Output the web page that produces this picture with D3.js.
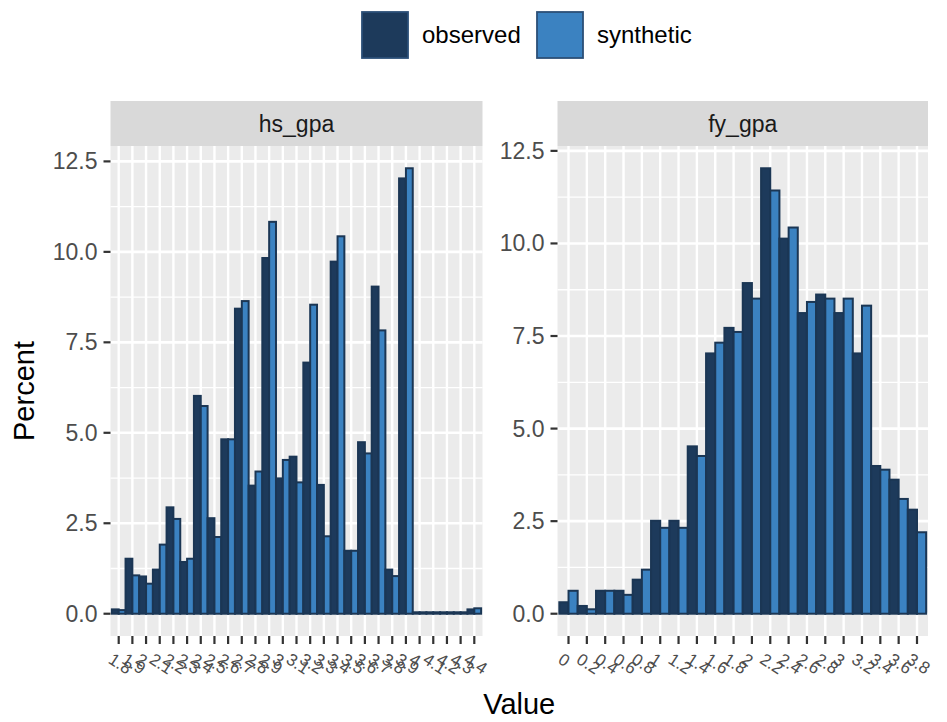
<!DOCTYPE html>
<html>
<head>
<meta charset="utf-8">
<script src="https://cdn.jsdelivr.net/npm/d3@7"></script>
<style>
  body { margin: 0; background: #fff; }
  text { font-family: "Liberation Sans", Arial, sans-serif; }
</style>
</head>
<body>
<div id="chart"></div>
<script>
// hs_gpa panel
var hsLabels = ["1.8", "1.9", "2", "2.1", "2.2", "2.3", "2.4", "2.5", "2.6", "2.7", "2.8", "2.9",
  "3", "3.1", "3.2", "3.3", "3.4", "3.5", "3.6", "3.7", "3.8", "3.9", "4", "4.1", "4.2", "4.3", "4.4"];
var hsObserved = [0.12, 1.52, 1.03, 1.22, 2.94, 1.43, 6.02, 2.64, 4.82, 8.43, 3.54, 9.83, 3.74, 4.34,
  6.94, 3.56, 9.73, 1.74, 4.74, 9.04, 1.22, 12.03, 0.04, 0.04, 0.04, 0.04, 0.12];
var hsSynthetic = [0.1, 1.06, 0.83, 1.91, 2.62, 1.52, 5.74, 2.12, 4.82, 8.64, 3.93, 10.83, 4.25, 3.63,
  8.54, 2.14, 10.43, 1.74, 4.43, 7.83, 1.04, 12.31, 0.04, 0.04, 0.04, 0.04, 0.15];

// fy_gpa panel
var fyLabels = ["0", "0.2", "0.4", "0.6", "0.8", "1", "1.2", "1.4", "1.6", "1.8",
  "2", "2.2", "2.4", "2.6", "2.8", "3", "3.2", "3.4", "3.6", "3.8"];
var fyObserved = [0.31, 0.21, 0.62, 0.62, 0.92, 2.51, 2.51, 4.52, 7.03, 7.72,
  8.93, 12.03, 10.13, 8.12, 8.62, 8.12, 7.03, 3.99, 3.62, 2.81];
var fySynthetic = [0.62, 0.12, 0.62, 0.51, 1.19, 2.32, 2.32, 4.26, 7.32, 7.61,
  8.51, 11.43, 10.43, 8.42, 8.51, 8.51, 8.32, 3.89, 3.10, 2.20];

var yTicks = [0, 2.5, 5, 7.5, 10, 12.5];
var groups = ["observed", "synthetic"];

var width = 947, height = 722;
var panelTop = 146, panelBottom = 636, stripTop = 101;
var color = d3.scaleOrdinal().domain(groups).range(["#1d3a5b", "#3b82c1"]);
var barStroke = "#1b3654";

var svg = d3.select("#chart").append("svg")
  .attr("width", width)
  .attr("height", height);

var panels = [
  {name: "hs_gpa", labels: hsLabels, observed: hsObserved, synthetic: hsSynthetic, x0: 110.5, x1: 482.5},
  {name: "fy_gpa", labels: fyLabels, observed: fyObserved, synthetic: fySynthetic, x0: 557.5, x1: 928}
];

function drawPanel(p) {
  var g = svg.append("g");

  var x = d3.scalePoint().domain(p.labels).range([p.x0, p.x1]).padding(0.6);
  var maxY = d3.max(p.observed.concat(p.synthetic));
  var y = d3.scaleLinear().domain([-0.05 * maxY, 1.05 * maxY]).range([panelBottom, panelTop]);
  var dodge = d3.scaleBand().domain(groups).range([-0.5 * x.step(), 0.5 * x.step()]);

  // panel background + grid
  g.append("rect")
    .attr("x", p.x0).attr("y", panelTop)
    .attr("width", p.x1 - p.x0).attr("height", panelBottom - panelTop)
    .attr("fill", "#ebebeb");

  var minor = [];
  for (var i = 0; i < yTicks.length; i++) {
    var m = yTicks[i] + 1.25;
    if (y(m) > panelTop) minor.push(m);
  }
  g.selectAll(".minor").data(minor).enter().append("line")
    .attr("x1", p.x0).attr("x2", p.x1)
    .attr("y1", function(d) { return y(d); }).attr("y2", function(d) { return y(d); })
    .attr("stroke", "#fff").attr("stroke-width", 1.3);
  g.selectAll(".major").data(yTicks).enter().append("line")
    .attr("x1", p.x0).attr("x2", p.x1)
    .attr("y1", function(d) { return y(d); }).attr("y2", function(d) { return y(d); })
    .attr("stroke", "#fff").attr("stroke-width", 2.6);
  g.selectAll(".vgrid").data(p.labels).enter().append("line")
    .attr("x1", function(d) { return x(d); }).attr("x2", function(d) { return x(d); })
    .attr("y1", panelTop).attr("y2", panelBottom)
    .attr("stroke", "#fff").attr("stroke-width", 2.4);

  // bars
  var bars = [];
  p.labels.forEach(function(lab, i) {
    bars.push({label: lab, group: "observed", value: p.observed[i]});
    bars.push({label: lab, group: "synthetic", value: p.synthetic[i]});
  });
  g.selectAll(".bar").data(bars).enter().append("rect")
    .attr("x", function(d) { return x(d.label) + dodge(d.group); })
    .attr("width", dodge.bandwidth())
    .attr("y", function(d) { return y(d.value); })
    .attr("height", function(d) { return y(0) - y(d.value); })
    .attr("fill", function(d) { return color(d.group); })
    .attr("stroke", barStroke)
    .attr("stroke-width", 2);

  // strip
  g.append("rect")
    .attr("x", p.x0).attr("y", stripTop)
    .attr("width", p.x1 - p.x0).attr("height", panelTop - stripTop)
    .attr("fill", "#d9d9d9");
  g.append("text")
    .attr("x", (p.x0 + p.x1) / 2).attr("y", (stripTop + panelTop) / 2)
    .attr("dy", "0.35em")
    .attr("text-anchor", "middle")
    .style("font-size", "23px")
    .attr("fill", "#1a1a1a")
    .text(p.name);

  // y axis
  g.selectAll(".ytick").data(yTicks).enter().append("line")
    .attr("x1", p.x0 - 7).attr("x2", p.x0)
    .attr("y1", function(d) { return y(d); }).attr("y2", function(d) { return y(d); })
    .attr("stroke", "#333").attr("stroke-width", 2.2);
  g.selectAll(".ylab").data(yTicks).enter().append("text")
    .attr("x", p.x0 - 13)
    .attr("y", function(d) { return y(d); })
    .attr("dy", "0.35em")
    .attr("text-anchor", "end")
    .style("font-size", "23px")
    .attr("fill", "#4d4d4d")
    .text(d3.format(".1f"));

  // x axis
  g.selectAll(".xtick").data(p.labels).enter().append("line")
    .attr("x1", function(d) { return x(d); }).attr("x2", function(d) { return x(d); })
    .attr("y1", panelBottom).attr("y2", panelBottom + 8)
    .attr("stroke", "#333").attr("stroke-width", 2.2);
  g.selectAll(".xlab").data(p.labels).enter().append("text")
    .attr("transform", function(d) { return "translate(" + (x(d) - 5) + "," + (panelBottom + 16) + ")rotate(33)"; })
    .attr("dy", "0.71em")
    .attr("text-anchor", "start")
    .style("font-size", "17px")
    .attr("fill", "#4d4d4d")
    .text(function(d) { return d; });
}

panels.forEach(drawPanel);

// axis titles
svg.append("text")
  .attr("transform", "translate(34," + ((panelTop + panelBottom) / 2) + ")rotate(-90)")
  .attr("text-anchor", "middle")
  .style("font-size", "29px")
  .attr("fill", "#000")
  .text("Percent");
svg.append("text")
  .attr("x", (panels[0].x0 + panels[1].x1) / 2)
  .attr("y", 714)
  .attr("text-anchor", "middle")
  .style("font-size", "29px")
  .attr("fill", "#000")
  .text("Value");

// legend
var legendX = [361, 536];
var legend = svg.append("g").selectAll("g")
  .data(groups)
  .enter().append("g")
  .attr("transform", function(d, i) { return "translate(" + legendX[i] + ",11)"; });
legend.append("rect")
  .attr("x", 1).attr("y", 1)
  .attr("width", 46).attr("height", 46)
  .attr("fill", color)
  .attr("stroke", "#2c4f77")
  .attr("stroke-width", 1.8);
legend.append("text")
  .attr("x", 61)
  .attr("y", 24)
  .attr("dy", "0.35em")
  .style("font-size", "24px")
  .attr("fill", "#000")
  .text(function(d) { return d; });
</script>
</body>
</html>
